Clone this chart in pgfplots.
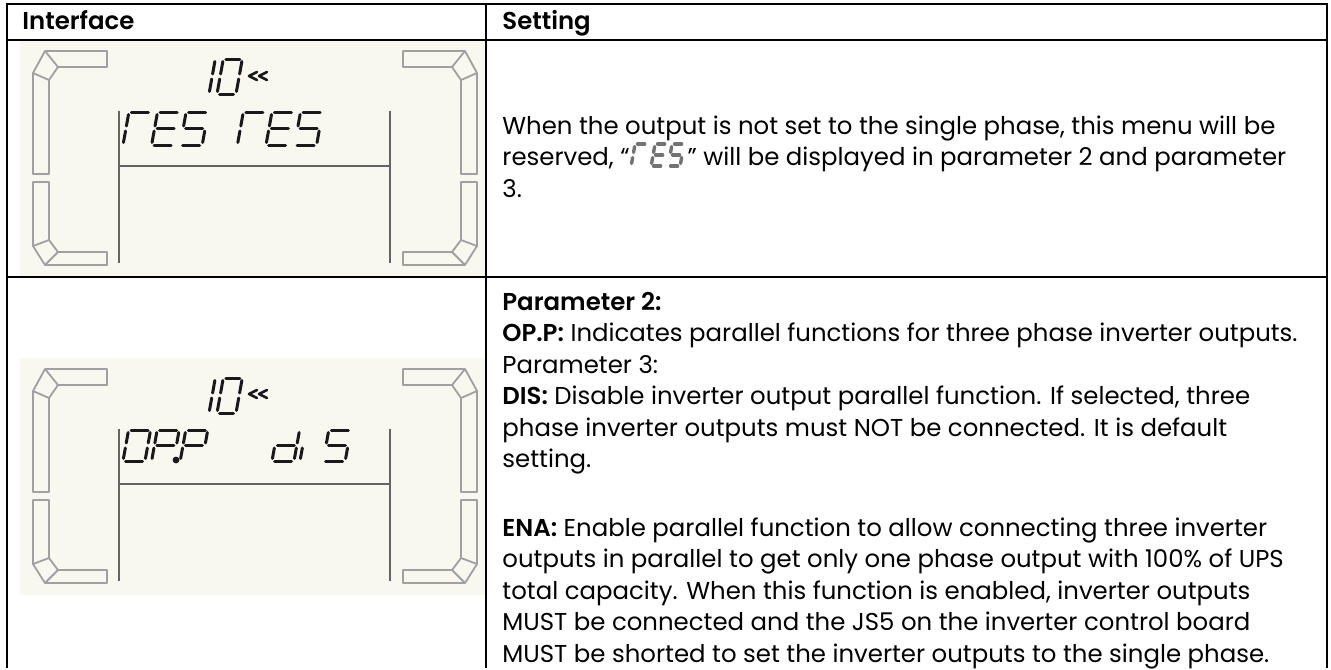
\documentclass[border=0pt]{standalone}
\usepackage{fontspec}
\setmainfont{Poppins}[BoldFont={Poppins SemiBold}]
\usepackage{pgfplots}
\pgfplotsset{compat=1.18}
\definecolor{lcdbg}{RGB}{248,247,240}
\definecolor{segout}{RGB}{160,160,160}
\definecolor{lcdframe}{RGB}{100,100,100}
\definecolor{digit}{RGB}{25,25,25}
\newcommand\txtfont{\fontsize{12.2pt}{14pt}\selectfont}
\newlength\reswd
\AtBeginDocument{\settowidth\reswd{\txtfont reserved, “}\pgfmathsetmacro\resx{502+2*\reswd}}
\tikzset{
  txt/.style={anchor=base west, inner sep=0pt, font=\txtfont},
  dig/.style={draw=digit, line width=1.5pt, line cap=round},
  mini/.style={draw=black!55, line width=1.7pt, line cap=round},
  sego/.style={draw=segout, line width=0.9pt, line join=round},
}
% LCD helpers: origin (#1,#2), local offset (#3,#4)
\newcommand\p[4]{(axis cs:{#1+#3},{#2+#4})}
\newcommand\q[4]{(axis cs:{#1+470-#3},{#2+#4})}
\newcommand\LCD[2]{%
  \fill[lcdbg] \p{#1}{#2}{0}{0} rectangle \p{#1}{#2}{465}{237};
  \draw[sego] \p{#1}{#2}{13}{134} -- \p{#1}{#2}{13}{33} -- \p{#1}{#2}{25}{11} -- \p{#1}{#2}{87}{11} -- \p{#1}{#2}{87}{27} -- \p{#1}{#2}{38}{27} -- \p{#1}{#2}{29}{40} -- \p{#1}{#2}{29}{134} -- cycle;
  \draw[sego] \p{#1}{#2}{25}{11} -- \p{#1}{#2}{38}{27};
  \draw[sego] \p{#1}{#2}{13}{33} -- \p{#1}{#2}{29}{40};
  \draw[sego] \p{#1}{#2}{13}{142} -- \p{#1}{#2}{29}{142} -- \p{#1}{#2}{29}{200} -- \p{#1}{#2}{38}{212} -- \p{#1}{#2}{87}{212} -- \p{#1}{#2}{87}{225} -- \p{#1}{#2}{25}{225} -- \p{#1}{#2}{13}{206} -- cycle;
  \draw[sego] \p{#1}{#2}{13}{206} -- \p{#1}{#2}{29}{200};
  \draw[sego] \p{#1}{#2}{25}{225} -- \p{#1}{#2}{38}{212};
  \draw[sego] \q{#1}{#2}{13}{134} -- \q{#1}{#2}{13}{33} -- \q{#1}{#2}{25}{11} -- \q{#1}{#2}{87}{11} -- \q{#1}{#2}{87}{27} -- \q{#1}{#2}{38}{27} -- \q{#1}{#2}{29}{40} -- \q{#1}{#2}{29}{134} -- cycle;
  \draw[sego] \q{#1}{#2}{25}{11} -- \q{#1}{#2}{38}{27};
  \draw[sego] \q{#1}{#2}{13}{33} -- \q{#1}{#2}{29}{40};
  \draw[sego] \q{#1}{#2}{13}{142} -- \q{#1}{#2}{29}{142} -- \q{#1}{#2}{29}{200} -- \q{#1}{#2}{38}{212} -- \q{#1}{#2}{87}{212} -- \q{#1}{#2}{87}{225} -- \q{#1}{#2}{25}{225} -- \q{#1}{#2}{13}{206} -- cycle;
  \draw[sego] \q{#1}{#2}{13}{206} -- \q{#1}{#2}{29}{200};
  \draw[sego] \q{#1}{#2}{25}{225} -- \q{#1}{#2}{38}{212};
  \draw[lcdframe, line width=0.85pt] \p{#1}{#2}{99}{71} -- \p{#1}{#2}{99}{223};
  \draw[lcdframe, line width=0.85pt] \p{#1}{#2}{370}{71} -- \p{#1}{#2}{370}{223};
  \draw[lcdframe, line width=0.85pt] \p{#1}{#2}{99}{126} -- \p{#1}{#2}{370}{126};
  \draw[dig, line width=1.3pt, line join=round] \p{#1}{#2}{237}{32} -- \p{#1}{#2}{229}{36} -- \p{#1}{#2}{237}{40};
  \draw[dig, line width=1.3pt, line join=round] \p{#1}{#2}{247}{32} -- \p{#1}{#2}{239}{36} -- \p{#1}{#2}{247}{40};
}
% seven segment: X Y w h style
\newcommand\sA[5]{\draw[#5] (axis cs:{#1+2.5+0.18*#4},{#2}) -- (axis cs:{#1+#3-2.5+0.18*#4},{#2});}
\newcommand\sB[5]{\draw[#5] (axis cs:{#1+#3+0.18*(#4-2.5)},{#2+2.5}) -- (axis cs:{#1+#3+0.18*(#4/2+2.5)},{#2+#4/2-2.5});}
\newcommand\sC[5]{\draw[#5] (axis cs:{#1+#3+0.18*(#4/2-2.5)},{#2+#4/2+2.5}) -- (axis cs:{#1+#3+0.45},{#2+#4-2.5});}
\newcommand\sD[5]{\draw[#5] (axis cs:{#1+2.5},{#2+#4}) -- (axis cs:{#1+#3-2.5},{#2+#4});}
\newcommand\sE[5]{\draw[#5] (axis cs:{#1+0.18*(#4/2-2.5)},{#2+#4/2+2.5}) -- (axis cs:{#1+0.45},{#2+#4-2.5});}
\newcommand\sF[5]{\draw[#5] (axis cs:{#1+0.18*(#4-2.5)},{#2+2.5}) -- (axis cs:{#1+0.18*(#4/2+2.5)},{#2+#4/2-2.5});}
\newcommand\sG[5]{\draw[#5] (axis cs:{#1+2.5+0.09*#4},{#2+#4/2}) -- (axis cs:{#1+#3-2.5+0.09*#4},{#2+#4/2});}
\makeatletter
\newcommand\seven[6]{\@for\segitem:=#6\do{\csname s\segitem\endcsname{#1}{#2}{#3}{#4}{#5}}}
\makeatother
\begin{document}
\begin{tikzpicture}
\begin{axis}[width=665.5pt, height=334pt, scale only axis,
  xmin=0, xmax=1331, ymin=0, ymax=668, y dir=reverse,
  hide axis, clip=false]
\fill[white] (axis cs:0,0) rectangle (axis cs:1331,668);
% LCD pictures
\LCD{20}{40}
\LCD{20}{358}
% row 1 display: 10 << / rES rES
\seven{190}{59}{19}{35}{dig}{B,C}
\seven{217}{59}{19}{35}{dig}{A,B,C,D,E,F}
\seven{123}{112}{22}{33}{dig}{A,E,F}
\seven{151.6}{112}{22}{33}{dig}{A,D,E,F,G}
\seven{180.2}{112}{22}{33}{dig}{A,C,D,F,G}
\seven{237.4}{112}{22}{33}{dig}{A,E,F}
\seven{266}{112}{22}{33}{dig}{A,D,E,F,G}
\seven{294.6}{112}{22}{33}{dig}{A,C,D,F,G}
% row 2 display: 10 << / OP.P dI S
\seven{190}{378}{19}{35}{dig}{B,C}
\seven{217}{378}{19}{35}{dig}{A,B,C,D,E,F}
\seven{123}{430}{22}{31}{dig}{A,B,C,D,E,F}
\seven{151.6}{430}{22}{31}{dig}{A,B,E,F,G}
\seven{180.2}{430}{22}{31}{dig}{A,B,E,F,G}
\fill[digit] (axis cs:176,460) circle[radius=1.7pt];
\seven{272}{430}{22}{31}{dig}{B,C,D,E,G}
\seven{300}{430}{22}{31}{dig}{E}
\seven{323.2}{430}{22}{31}{dig}{A,C,D,F,G}
% table rules
\draw[line width=1.3pt] (axis cs:7,4) -- (axis cs:1327,4);
\draw[line width=1.3pt] (axis cs:7,40) -- (axis cs:1327,40);
\draw[line width=1.3pt] (axis cs:7,277) -- (axis cs:1327,277);
\draw[line width=1.3pt] (axis cs:7,3.4) -- (axis cs:7,668);
\draw[line width=1.3pt] (axis cs:1327,3.4) -- (axis cs:1327,668);
\draw[line width=1.3pt] (axis cs:486,4) -- (axis cs:486,668);
% header
\node[txt] at (axis cs:22,29) {\bfseries Interface};
\node[txt] at (axis cs:502,29) {\bfseries Setting};
% row 1 text
\node[txt] at (axis cs:502,134) {When the output is not set to the single phase, this menu will be};
\node[txt] at (axis cs:502,165.5) {reserved, “};
\seven{\resx+2}{144}{12}{22}{mini}{A,E,F}
\seven{\resx+22}{144}{12}{22}{mini}{A,D,E,F,G}
\seven{\resx+39}{144}{12}{22}{mini}{A,C,D,F,G}
\node[txt] at (axis cs:{\resx+58},165.5) {” will be displayed in parameter 2 and parameter};
\node[txt] at (axis cs:502,197) {3.};
% row 2 text
\node[txt] at (axis cs:502,310) {\bfseries Parameter 2:};
\node[txt] at (axis cs:502,341.5) {\textbf{OP.P:} Indicates parallel functions for three phase inverter outputs.};
\node[txt] at (axis cs:502,373) {Parameter 3:};
\node[txt] at (axis cs:502,404.5) {\textbf{DIS:} Disable inverter output parallel function. If selected, three};
\node[txt] at (axis cs:502,436) {phase inverter outputs must NOT be connected. It is default};
\node[txt] at (axis cs:502,467.5) {setting.};
\node[txt] at (axis cs:502,536) {\textbf{ENA:} Enable parallel function to allow connecting three inverter};
\node[txt] at (axis cs:502,567.5) {outputs in parallel to get only one phase output with 100\% of UPS};
\node[txt] at (axis cs:502,599) {total capacity. When this function is enabled, inverter outputs};
\node[txt] at (axis cs:502,630.5) {MUST be connected and the JS5 on the inverter control board};
\node[txt] at (axis cs:502,662) {MUST be shorted to set the inverter outputs to the single phase.};
\end{axis}
\end{tikzpicture}
\end{document}
